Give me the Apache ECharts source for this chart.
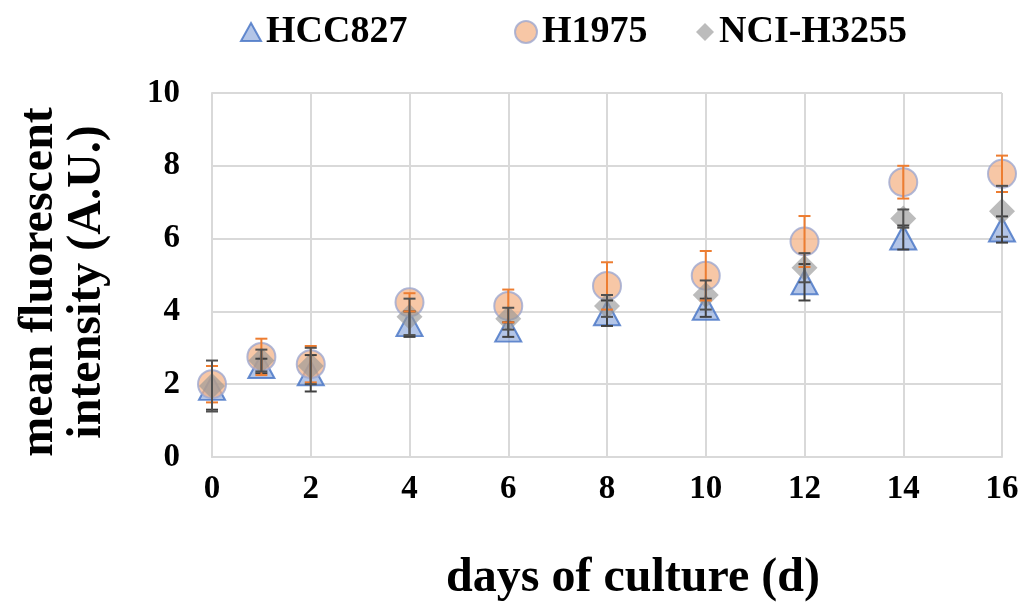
<!DOCTYPE html>
<html>
<head>
<meta charset="utf-8">
<script src="https://cdn.jsdelivr.net/npm/echarts@6/dist/echarts.min.js"></script>
<style>
  html, body { margin: 0; padding: 0; background: #fff; }
  #chart { width: 1026px; height: 603px; }
</style>
</head>
<body>
<div id="chart"></div>
<script>
// Culture days sampled
const days = [0, 1, 2, 4, 6, 8, 10, 12, 14, 16];

// Mean fluorescent intensity per cell line
const hcc827 = [1.9, 2.5, 2.3, 3.65, 3.5, 3.95, 4.1, 4.8, 6.03, 6.25];
const h1975 = [2.0, 2.75, 2.55, 4.25, 4.15, 4.7, 4.98, 5.92, 7.55, 7.78];
const h3255 = [1.95, 2.65, 2.5, 3.85, 3.8, 4.15, 4.45, 5.2, 6.55, 6.75];

// Error (± SD) per cell line
const hcc827Err = [0.6, 0.2, 0.5, 0.35, 0.2, 0.35, 0.25, 0.5, 0.33, 0.36];
const h1975Err = [0.5, 0.5, 0.5, 0.25, 0.45, 0.65, 0.68, 0.7, 0.45, 0.5];
const h3255Err = [0.7, 0.3, 0.5, 0.5, 0.3, 0.3, 0.4, 0.4, 0.25, 0.7];

const xTicks = [0, 2, 4, 6, 8, 10, 12, 14, 16];
const yTicks = [0, 2, 4, 6, 8, 10];

const FONT = '"Liberation Serif", "Times New Roman", serif';

function pts(vals) { return days.map((d, i) => [d, vals[i]]); }
function errPts(vals, errs) { return days.map((d, i) => [d, vals[i], vals[i] - errs[i], vals[i] + errs[i]]); }

function errorSeries(name, vals, errs, color, z) {
  return {
    type: 'custom',
    name: name,
    z: z,
    silent: true,
    data: errPts(vals, errs),
    renderItem: function (params, api) {
      const x = api.value(0);
      const lo = api.coord([x, api.value(2)]);
      const hi = api.coord([x, api.value(3)]);
      const cap = 6;
      const style = { stroke: color, lineWidth: 2 };
      return {
        type: 'group',
        children: [
          { type: 'line', shape: { x1: lo[0], y1: lo[1], x2: hi[0], y2: hi[1] }, style: style },
          { type: 'line', shape: { x1: hi[0] - cap, y1: hi[1], x2: hi[0] + cap, y2: hi[1] }, style: style },
          { type: 'line', shape: { x1: lo[0] - cap, y1: lo[1], x2: lo[0] + cap, y2: lo[1] }, style: style }
        ]
      };
    }
  };
}

const legendText = { fontFamily: FONT, fontWeight: 'bold', fontSize: 38, color: '#000' };

const chart = echarts.init(document.getElementById('chart'));
chart.setOption({
  animation: false,
  backgroundColor: '#fff',
  legend: [
    { data: ['HCC827'], left: 240, top: 13, itemWidth: 20, itemHeight: 18, textStyle: legendText, padding: 0 },
    { data: ['H1975'], left: 514, top: 13, itemWidth: 22, itemHeight: 22, textStyle: legendText, padding: 0 },
    { data: ['NCI-H3255'], left: 696, top: 13, itemWidth: 18, itemHeight: 18, textStyle: legendText, padding: 0 }
  ],
  grid: { left: 212, right: 24, top: 93, bottom: 146, containLabel: false, outerBoundsMode: 'none' },
  xAxis: {
    type: 'value',
    min: 0, max: 16, interval: 2,
    name: 'days of culture (d)',
    nameLocation: 'middle',
    nameGap: 98,
    nameTextStyle: { fontFamily: FONT, fontWeight: 'bold', fontSize: 48, color: '#000', padding: [0, 0, 0, 52] },
    axisLine: { show: true, lineStyle: { color: '#d9d9d9', width: 2 } },
    axisTick: { show: false },
    splitLine: { show: true, lineStyle: { color: '#d9d9d9', width: 2 } },
    axisLabel: {
      fontFamily: FONT, fontWeight: 'bold', fontSize: 33, color: '#000', margin: 16,
      formatter: v => xTicks.includes(v) ? String(v) : ''
    }
  },
  yAxis: {
    type: 'value',
    min: 0, max: 10, interval: 2,
    name: 'mean fluorescent\nintensity (A.U.)',
    nameLocation: 'middle',
    nameRotate: 90,
    nameGap: 100,
    nameTextStyle: { fontFamily: FONT, fontWeight: 'bold', fontSize: 48, lineHeight: 48, color: '#000', padding: [0, 14, 0, 0] },
    axisLine: { show: true, lineStyle: { color: '#d9d9d9', width: 2 } },
    axisTick: { show: false },
    splitLine: { show: true, lineStyle: { color: '#d9d9d9', width: 2 } },
    axisLabel: {
      fontFamily: FONT, fontWeight: 'bold', fontSize: 33, color: '#000', margin: 32,
      formatter: v => yTicks.includes(v) ? String(v) : ''
    }
  },
  series: [
    {
      name: 'HCC827', type: 'scatter', z: 2,
      symbol: 'triangle', symbolSize: [26, 24],
      itemStyle: { color: 'rgba(143,170,220,0.85)', borderColor: '#4472C4', borderWidth: 2 },
      data: pts(hcc827)
    },
    {
      name: 'H1975', type: 'scatter', z: 3,
      symbol: 'circle', symbolSize: 28,
      itemStyle: { color: 'rgba(244,177,131,0.9)', borderColor: '#9DA8CF', borderWidth: 2 },
      data: pts(h1975)
    },
    {
      name: 'NCI-H3255', type: 'scatter', z: 4,
      symbol: 'diamond', symbolSize: [26, 26],
      itemStyle: { color: 'rgba(150,150,150,0.8)' },
      data: pts(h3255)
    },
    errorSeries('HCC827', hcc827, hcc827Err, '#404040', 5),
    errorSeries('H1975', h1975, h1975Err, '#ED7D31', 6),
    errorSeries('NCI-H3255', h3255, h3255Err, '#505050', 7)
  ]
});
</script>
</body>
</html>
